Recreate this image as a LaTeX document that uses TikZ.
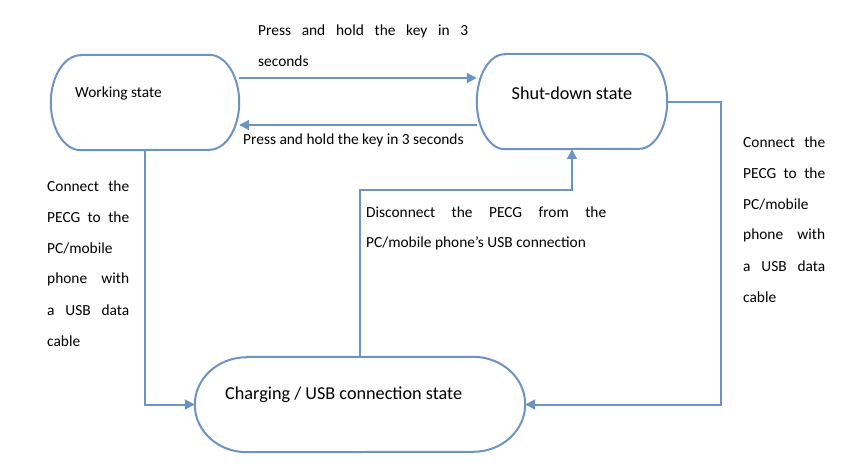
\documentclass[tikz,border=0pt]{standalone}
\usepackage{fontspec}
\setmainfont{Carlito}
\usetikzlibrary{arrows.meta,calc}
\definecolor{lineblue}{RGB}{108,147,196}
\newcommand\ovaloutline[2]{\draw[shapeline] ([xshift=#2pt]#1.north west) -- ([xshift=-#2pt]#1.north east) arc[start angle=90,end angle=-90,x radius=#2pt,y radius=47.5pt] -- ([xshift=#2pt]#1.south west) arc[start angle=270,end angle=90,x radius=#2pt,y radius=47.5pt] -- cycle;}
\begin{document}
\begin{tikzpicture}[x=1pt,y=-1pt,
  shapeline/.style={draw=lineblue,line width=2pt},
  statebox/.style={minimum height=95pt,inner sep=0pt},
  arr/.style={draw=lineblue,line width=2pt,-{Triangle[length=10pt,width=10pt]}},
  small/.style={font=\fontsize{15.4}{18}\selectfont,inner sep=0pt},
  big/.style={font=\fontsize{18.2}{21}\selectfont,inner sep=0pt}]
\useasboundingbox (0,0) rectangle (849,472);
% state shapes
\node[statebox,minimum width=188pt] (w) at (145,102.5) {};
\node[statebox,minimum width=190pt] (s) at (572,101.5) {};
\node[statebox,minimum width=330pt] (c) at (360,404.5) {};
\ovaloutline{w}{30}
\ovaloutline{s}{28}
\ovaloutline{c}{52}
% state texts
\node[small,anchor=west] (wl) at (75,93) {Working state};
\node[big] (sl) at (572,93) {Shut-down state};
\node[big,anchor=west] (cl) at (225,395) {Charging / USB connection state};
% connectors
\draw[arr] ([yshift=24.5pt]w.east) -- ([yshift=24.5pt]w.east -| s.west);
\draw[arr] ([yshift=-23.5pt]s.west) -- ([yshift=-23.5pt]s.west -| w.east);
\draw[arr] (w.south) |- (c.west);
\draw[arr] (s.east) -- ++(54,0) |- (c.east);
\draw[arr] (c.north) |- ([yshift=-41pt]s.south) -- (s.south);
% labels
\node[small,anchor=west] (t1) at (258,31) {\makebox[210pt][s]{Press and hold the key in 3}};
\node[small,anchor=west] (t2) at (258,61) {seconds};
\node[small,anchor=west] (b1) at (243,140) {Press and hold the key in 3 seconds};
\node[small,anchor=west] (d1) at (366,212) {\makebox[240pt][s]{Disconnect the PECG from the}};
\node[small,anchor=west] (d2) at (366,243) {PC/mobile phone’s USB connection};
\foreach \yy/\txt/\j in {0/{Connect the}/1,1/{PECG to the}/1,2/{PC/mobile}/0,3/{phone with}/1,4/{a USB data}/1,5/{cable}/0}{
  \ifnum\j=1
    \node[small,anchor=west] (l\yy) at (47,186+31*\yy) {\makebox[82pt][s]{\txt}};
    \node[small,anchor=west] (r\yy) at (743,142+31*\yy) {\makebox[82pt][s]{\txt}};
  \else
    \node[small,anchor=west] (l\yy) at (47,186+31*\yy) {\txt};
    \node[small,anchor=west] (r\yy) at (743,142+31*\yy) {\txt};
  \fi
}
\end{tikzpicture}
\end{document}
